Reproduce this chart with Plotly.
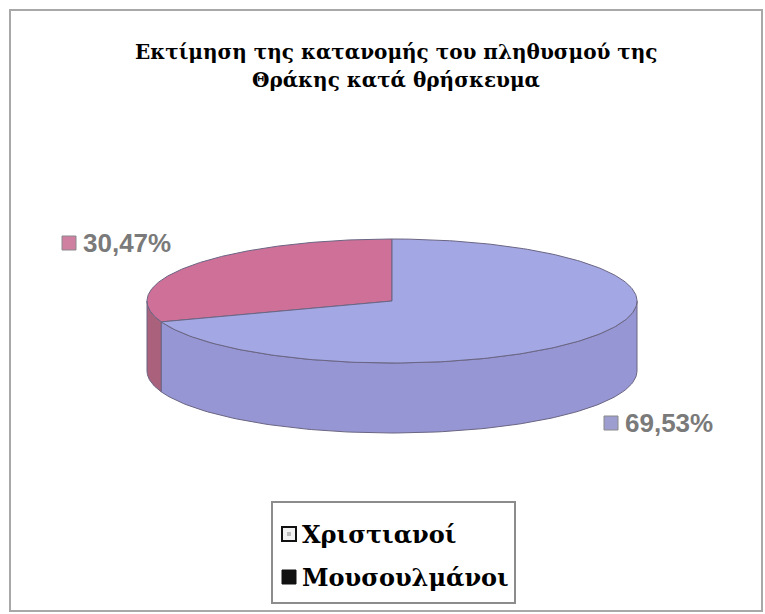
import numpy as np
import plotly.graph_objects as go

# ---- data ----
categories = ["Μουσουλμάνοι", "Χριστιανοί"]
shares = [30.47, 69.53]
label_texts = ["30,47%", "69,53%"]
title_lines = ["Εκτίμηση της κατανομής του πληθυσμού της", "Θράκης κατά θρήσκευμα"]
legend_order = ["Χριστιανοί", "Μουσουλμάνοι"]

# ---- style ----
W, H = 765, 614
CX, CY, RX, RY, DEPTH = 392, 301, 245, 62, 70
top_colors = {"Μουσουλμάνοι": "#CF7098", "Χριστιανοί": "#A3A8E4"}
side_colors = {"Μουσουλμάνοι": "#A9617C", "Χριστιανοί": "#9596D3"}
marker_colors = {"Μουσουλμάνοι": "#CF7FA0", "Χριστιανοί": "#9E9DCF"}
EDGE = "#6B6583"

fig = go.Figure()


def pt(theta_deg, dy=0.0):
    t = np.radians(theta_deg)
    return CX + RX * np.cos(t), CY - RY * np.sin(t) + dy


# slice angle ranges (start at 12 o'clock, going counter-clockwise)
ranges = []
start = 90.0
for cat, s in zip(categories, shares):
    end = start + s / 100.0 * 360.0
    ranges.append((cat, start, end))
    start = end

# side faces (front half: 180..360)
for cat, a, b in ranges:
    lo, hi = max(a, 180.0), min(b, 360.0)
    if hi <= lo:
        continue
    th = np.linspace(lo, hi, 120)
    xt, yt = pt(th)
    xb, yb = pt(th[::-1], DEPTH)
    xs = np.concatenate([xt, xb, xt[:1]])
    ys = np.concatenate([yt, yb, yt[:1]])
    fig.add_trace(go.Scatter(x=xs, y=ys, mode="lines", fill="toself",
                             fillcolor=side_colors[cat],
                             line=dict(color=EDGE, width=1),
                             hoverinfo="skip", showlegend=False))

# top faces
for cat, a, b in ranges:
    th = np.linspace(a, b, 240)
    xa, ya = pt(th)
    xs = np.concatenate([[CX], xa, [CX]])
    ys = np.concatenate([[CY], ya, [CY]])
    fig.add_trace(go.Scatter(x=xs, y=ys, mode="lines", fill="toself",
                             fillcolor=top_colors[cat],
                             line=dict(color=EDGE, width=1),
                             hoverinfo="skip", showlegend=False))

shapes = []
annotations = []

# outer border
shapes.append(dict(type="rect", xref="x", yref="y", x0=10, x1=762, y0=10, y1=611,
                   line=dict(color="#A8A8A8", width=2), fillcolor="rgba(0,0,0,0)"))

# title
for i, line in enumerate(title_lines):
    annotations.append(dict(x=396, y=52 + 28 * i, xref="x", yref="y", text="<b>%s</b>" % line,
                            showarrow=False, xanchor="center", yanchor="middle",
                            font=dict(family="DejaVu Serif", size=20, color="#000000")))

# data labels
label_pos = {"Μουσουλμάνοι": (62, 243), "Χριστιανοί": (604, 423)}
for cat, txt in zip(categories, label_texts):
    lx, ly = label_pos[cat]
    shapes.append(dict(type="rect", xref="x", yref="y", x0=lx, x1=lx + 14, y0=ly - 7, y1=ly + 7,
                       line=dict(color="#8A8A8A", width=1), fillcolor=marker_colors[cat]))
    annotations.append(dict(x=lx + 19, y=ly, xref="x", yref="y", text="<b>%s</b>" % txt,
                            showarrow=False, xanchor="left", yanchor="middle",
                            font=dict(family="Liberation Sans", size=26, color="#7A7A7A")))

# legend box
shapes.append(dict(type="rect", xref="x", yref="y", x0=272, x1=515, y0=502, y1=603,
                   line=dict(color="#8C8C8C", width=2), fillcolor="#FFFFFF"))
leg_y = {"Χριστιανοί": 534, "Μουσουλμάνοι": 577}
for cat in legend_order:
    y0 = leg_y[cat]
    if cat == "Χριστιανοί":
        shapes.append(dict(type="rect", xref="x", yref="y", x0=282, x1=296, y0=y0 - 7, y1=y0 + 7,
                           line=dict(color="#111111", width=2), fillcolor="#F2F2F2"))
        shapes.append(dict(type="rect", xref="x", yref="y", x0=287, x1=291, y0=y0 - 2, y1=y0 + 2,
                           line=dict(color="#BBBBBB", width=0), fillcolor="#BBBBBB"))
    else:
        shapes.append(dict(type="rect", xref="x", yref="y", x0=282, x1=296, y0=y0 - 7, y1=y0 + 7,
                           line=dict(color="#111111", width=1), fillcolor="#111111"))
    annotations.append(dict(x=300, y=y0, xref="x", yref="y", text="<b>%s</b>" % cat,
                            showarrow=False, xanchor="left", yanchor="middle",
                            font=dict(family="DejaVu Serif", size=24, color="#000000")))

fig.update_layout(
    width=W, height=H, autosize=False,
    margin=dict(l=0, r=0, t=0, b=0, pad=0),
    paper_bgcolor="#FFFFFF", plot_bgcolor="#FFFFFF",
    xaxis=dict(range=[0, W], visible=False, fixedrange=True),
    yaxis=dict(range=[H, 0], visible=False, fixedrange=True),
    shapes=shapes, annotations=annotations, showlegend=False,
)

fig.write_html("out.html", config={"displayModeBar": False},
               post_script="document.body.style.margin='0';document.body.style.overflow='hidden';")
